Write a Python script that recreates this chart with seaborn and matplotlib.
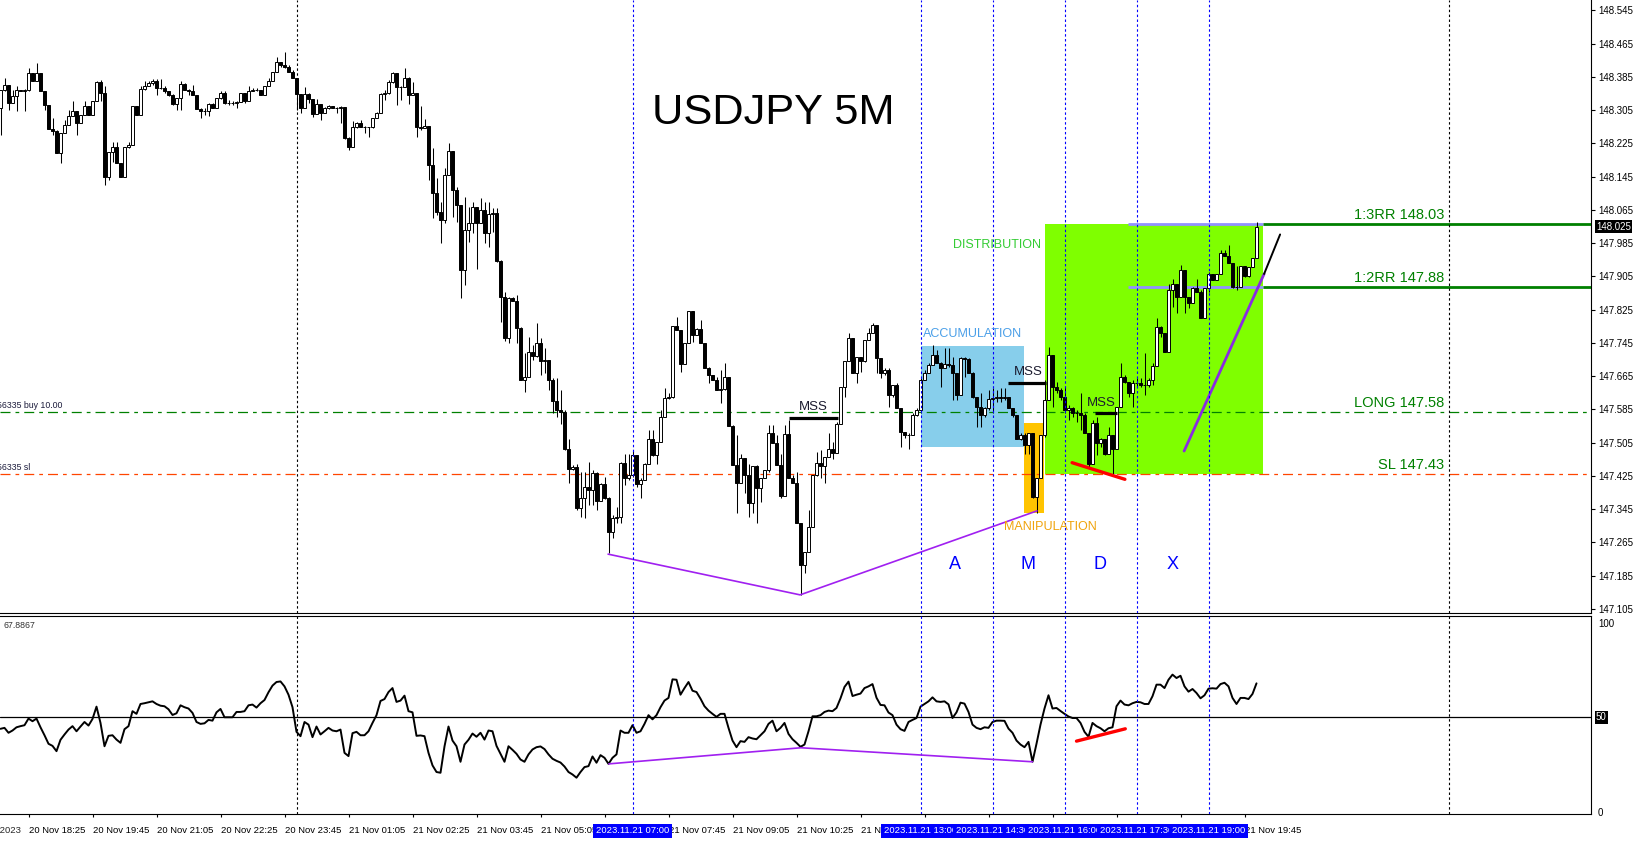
import numpy as np
import matplotlib
matplotlib.use("Agg")
import matplotlib.pyplot as plt
import seaborn as sns
from matplotlib.patches import Rectangle
from matplotlib.transforms import blended_transform_factory

#%%
# USDJPY 5 minute candles, 20 Nov 17:50 -> 21 Nov 20:00 (bar index 0..314)
first_open = 148.310

closes = [
    # 20 Nov 17:50 - 23:55
    148.354, 148.366, 148.322, 148.338, 148.354, 148.352, 148.354, 148.394, 148.374, 148.394,
    148.352, 148.318, 148.259, 148.256, 148.203, 148.249, 148.270, 148.291, 148.303, 148.275,
    148.294, 148.314, 148.294, 148.327, 148.372, 148.346, 148.145, 148.205, 148.217, 148.179,
    148.145, 148.216, 148.221, 148.314, 148.294, 148.355, 148.363, 148.371, 148.376, 148.358,
    148.358, 148.350, 148.342, 148.320, 148.334, 148.367, 148.354, 148.350, 148.342, 148.307,
    148.304, 148.302, 148.319, 148.310, 148.334, 148.347, 148.322, 148.322, 148.322, 148.324,
    148.346, 148.326, 148.351, 148.354, 148.354, 148.342, 148.362, 148.376, 148.398, 148.420,
    148.414, 148.410, 148.398, 148.382,
    # 21 Nov 00:00 - 05:40
    148.345, 148.309, 148.345, 148.333, 148.295, 148.321, 148.299, 148.309, 148.315, 148.309,
    148.309, 148.313, 148.237, 148.216, 148.264, 148.273, 148.264, 148.264, 148.264, 148.285,
    148.299, 148.345, 148.347, 148.373, 148.394, 148.360, 148.360, 148.382, 148.341, 148.347,
    148.264, 148.262, 148.268, 148.173, 148.106, 148.061, 148.041, 148.149, 148.207, 148.114,
    148.078, 147.920, 148.017, 148.033, 148.073, 148.033, 148.066, 148.010, 148.055, 148.057,
    147.943, 147.856, 147.758, 147.852, 147.847, 147.782, 147.656, 147.662, 147.724, 147.714,
    147.744, 147.702, 147.704, 147.656, 147.606, 147.584, 147.580, 147.491, 147.443,
    # 05:45 - 11:55
    147.446, 147.347, 147.371, 147.399, 147.391, 147.431, 147.366, 147.405, 147.371, 147.291,
    147.323, 147.327, 147.457, 147.419, 147.427, 147.475, 147.405, 147.415, 147.455, 147.513,
    147.475, 147.507, 147.568, 147.612, 147.616, 147.786, 147.776, 147.694, 147.746, 147.823,
    147.764, 147.778, 147.744, 147.684, 147.668, 147.656, 147.632, 147.634, 147.664, 147.545,
    147.451, 147.409, 147.469, 147.427, 147.361, 147.449, 147.395, 147.419, 147.439, 147.529,
    147.505, 147.451, 147.377, 147.526, 147.419, 147.409, 147.311, 147.211, 147.243, 147.303,
    147.427, 147.457, 147.449, 147.471, 147.489, 147.481, 147.550, 147.640, 147.702, 147.756,
    147.672, 147.712, 147.702, 147.752, 147.768,
    # 12:10 - 18:45
    147.788, 147.708, 147.672, 147.680, 147.620, 147.644, 147.588, 147.532, 147.524, 147.524,
    147.572, 147.584, 147.656, 147.672, 147.692, 147.716, 147.696, 147.684, 147.694, 147.692,
    147.672, 147.620, 147.708, 147.706, 147.673, 147.616, 147.592, 147.572, 147.588, 147.609,
    147.612, 147.616, 147.612, 147.616, 147.588, 147.572, 147.513, 147.524, 147.499, 147.528,
    147.375, 147.419, 147.524, 147.608, 147.716, 147.640, 147.632, 147.616, 147.584, 147.588,
    147.576, 147.576, 147.572, 147.528, 147.455, 147.552, 147.504, 147.513, 147.479, 147.524,
    147.491, 147.592, 147.664, 147.652, 147.625, 147.649, 147.648, 147.644, 147.644, 147.656,
    147.690, 147.784, 147.768, 147.724, 147.872, 147.888, 147.856, 147.920, 147.856, 147.840,
    # 18:50 - 20:10
    147.876, 147.868, 147.804, 147.876, 147.912, 147.896, 147.912, 147.961, 147.953, 147.937,
    147.880, 147.880, 147.929, 147.906, 147.927, 147.949, 148.025,
]

highs = [
    148.354, 148.382, 148.366, 148.354, 148.362, 148.354, 148.355, 148.406, 148.394, 148.418,
    148.395, 148.352, 148.318, 148.286, 148.257, 148.249, 148.282, 148.306, 148.326, 148.303,
    148.294, 148.326, 148.314, 148.327, 148.374, 148.378, 148.362, 148.205, 148.229, 148.229,
    148.179, 148.216, 148.229, 148.314, 148.314, 148.363, 148.374, 148.376, 148.379, 148.379,
    148.379, 148.362, 148.352, 148.344, 148.334, 148.374, 148.371, 148.355, 148.366, 148.342,
    148.310, 148.310, 148.322, 148.322, 148.334, 148.350, 148.350, 148.330, 148.326, 148.327,
    148.347, 148.347, 148.362, 148.358, 148.358, 148.354, 148.362, 148.382, 148.398, 148.434,
    148.420, 148.446, 148.414, 148.402,
    148.347, 148.345, 148.360, 148.347, 148.303, 148.333, 148.321, 148.313, 148.317, 148.315,
    148.313, 148.315, 148.307, 148.240, 148.279, 148.277, 148.281, 148.267, 148.265, 148.285,
    148.301, 148.347, 148.353, 148.378, 148.398, 148.395, 148.363, 148.406, 148.384, 148.373,
    148.345, 148.315, 148.283, 148.268, 148.213, 148.141, 148.085, 148.165, 148.225, 148.204,
    148.121, 148.077, 148.097, 148.073, 148.085, 148.073, 148.093, 148.085, 148.085, 148.069,
    148.069, 147.944, 147.868, 147.856, 147.856, 147.860, 147.784, 147.720, 147.760, 147.740,
    147.792, 147.756, 147.732, 147.705, 147.660, 147.660, 147.632, 147.584, 147.515,
    147.451, 147.455, 147.435, 147.435, 147.459, 147.439, 147.435, 147.407, 147.423, 147.375,
    147.331, 147.351, 147.459, 147.479, 147.479, 147.487, 147.475, 147.419, 147.457, 147.536,
    147.536, 147.507, 147.584, 147.636, 147.624, 147.786, 147.808, 147.775, 147.746, 147.823,
    147.823, 147.780, 147.800, 147.744, 147.686, 147.668, 147.662, 147.680, 147.696, 147.664,
    147.548, 147.523, 147.479, 147.469, 147.454, 147.449, 147.451, 147.419, 147.439, 147.548,
    147.548, 147.523, 147.479, 147.548, 147.560, 147.427, 147.435, 147.311, 147.243, 147.343,
    147.427, 147.483, 147.487, 147.471, 147.529, 147.507, 147.556, 147.640, 147.702, 147.768,
    147.756, 147.712, 147.702, 147.752, 147.780,
    147.792, 147.788, 147.708, 147.684, 147.684, 147.644, 147.648, 147.588, 147.532, 147.528,
    147.576, 147.588, 147.660, 147.680, 147.696, 147.740, 147.728, 147.698, 147.732, 147.732,
    147.712, 147.672, 147.712, 147.712, 147.708, 147.676, 147.616, 147.624, 147.592, 147.632,
    147.636, 147.632, 147.636, 147.636, 147.616, 147.588, 147.572, 147.528, 147.528, 147.528,
    147.528, 147.419, 147.524, 147.656, 147.736, 147.712, 147.652, 147.636, 147.640, 147.596,
    147.592, 147.584, 147.624, 147.576, 147.528, 147.560, 147.568, 147.516, 147.512, 147.544,
    147.524, 147.592, 147.696, 147.668, 147.652, 147.656, 147.660, 147.660, 147.720, 147.660,
    147.696, 147.804, 147.786, 147.768, 147.888, 147.900, 147.888, 147.932, 147.920, 147.856,
    147.880, 147.900, 147.872, 147.876, 147.916, 147.912, 147.912, 147.969, 147.969, 147.981,
    147.937, 147.929, 147.929, 147.929, 147.927, 147.949, 148.037,
]

lows = [
    148.245, 148.350, 148.306, 148.322, 148.302, 148.350, 148.302, 148.352, 148.374, 148.374,
    148.352, 148.306, 148.259, 148.245, 148.203, 148.177, 148.249, 148.270, 148.291, 148.245,
    148.278, 148.294, 148.294, 148.296, 148.326, 148.326, 148.125, 148.137, 148.181, 148.179,
    148.145, 148.145, 148.213, 148.221, 148.294, 148.294, 148.354, 148.362, 148.366, 148.342,
    148.355, 148.346, 148.338, 148.318, 148.306, 148.306, 148.354, 148.342, 148.342, 148.307,
    148.286, 148.294, 148.290, 148.310, 148.310, 148.331, 148.320, 148.318, 148.318, 148.310,
    148.326, 148.322, 148.326, 148.350, 148.350, 148.342, 148.342, 148.362, 148.376, 148.398,
    148.410, 148.406, 148.398, 148.382,
    148.305, 148.299, 148.321, 148.323, 148.289, 148.307, 148.281, 148.297, 148.307, 148.309,
    148.297, 148.273, 148.235, 148.209, 148.216, 148.261, 148.264, 148.251, 148.241, 148.261,
    148.288, 148.297, 148.329, 148.345, 148.371, 148.317, 148.329, 148.360, 148.321, 148.341,
    148.241, 148.257, 148.261, 148.137, 148.045, 148.053, 147.985, 148.033, 148.149, 148.049,
    148.037, 147.852, 147.884, 147.989, 148.009, 147.924, 148.033, 147.985, 147.977, 148.013,
    147.940, 147.796, 147.750, 147.746, 147.847, 147.744, 147.656, 147.628, 147.668, 147.704,
    147.712, 147.668, 147.672, 147.632, 147.576, 147.568, 147.551, 147.487, 147.407,
    147.439, 147.343, 147.327, 147.323, 147.355, 147.355, 147.343, 147.375, 147.369, 147.239,
    147.275, 147.311, 147.311, 147.403, 147.415, 147.423, 147.399, 147.371, 147.415, 147.455,
    147.473, 147.454, 147.507, 147.566, 147.609, 147.612, 147.775, 147.676, 147.694, 147.744,
    147.748, 147.764, 147.744, 147.684, 147.648, 147.656, 147.632, 147.600, 147.633, 147.545,
    147.451, 147.335, 147.409, 147.383, 147.327, 147.335, 147.311, 147.363, 147.419, 147.435,
    147.505, 147.451, 147.371, 147.379, 147.419, 147.409, 147.311, 147.139, 147.191, 147.251,
    147.313, 147.425, 147.419, 147.407, 147.471, 147.467, 147.487, 147.550, 147.616, 147.702,
    147.672, 147.649, 147.676, 147.698, 147.752,
    147.772, 147.672, 147.660, 147.668, 147.592, 147.616, 147.588, 147.495, 147.516, 147.491,
    147.524, 147.569, 147.576, 147.656, 147.672, 147.692, 147.696, 147.640, 147.684, 147.688,
    147.608, 147.608, 147.620, 147.664, 147.672, 147.612, 147.544, 147.544, 147.568, 147.584,
    147.576, 147.604, 147.604, 147.608, 147.588, 147.568, 147.513, 147.512, 147.479, 147.479,
    147.371, 147.335, 147.419, 147.518, 147.608, 147.592, 147.624, 147.608, 147.576, 147.560,
    147.568, 147.556, 147.536, 147.528, 147.447, 147.455, 147.476, 147.495, 147.475, 147.479,
    147.427, 147.491, 147.596, 147.648, 147.616, 147.592, 147.640, 147.640, 147.620, 147.640,
    147.644, 147.690, 147.760, 147.724, 147.748, 147.832, 147.816, 147.888, 147.816, 147.828,
    147.848, 147.868, 147.804, 147.804, 147.868, 147.896, 147.896, 147.912, 147.953, 147.937,
    147.876, 147.872, 147.880, 147.904, 147.904, 147.927, 147.949,
]

# RSI(14) of the same bars
rsi_values = [
    43.9, 44.4, 41.8, 43.0, 44.7, 45.3, 45.8, 49.3, 47.9, 49.3,
    44.7, 40.5, 36.0, 34.9, 32.1, 38.1, 40.9, 43.5, 45.3, 42.6,
    45.1, 47.5, 45.6, 49.1, 55.6, 47.0, 34.7, 40.2, 40.5, 38.2,
    36.5, 43.7, 45.3, 53.2, 51.8, 57.0, 57.4, 57.9, 58.4, 57.0,
    56.1, 55.8, 54.2, 51.2, 52.1, 56.3, 55.3, 54.6, 52.3, 47.5,
    46.5, 46.8, 48.6, 48.2, 52.6, 54.4, 50.0, 50.0, 50.0, 52.8,
    52.8, 53.2, 56.3, 56.7, 55.1, 57.4, 59.1, 63.2, 66.7, 68.6,
    68.9, 66.3, 61.9, 55.3, 42.3, 40.0, 47.5, 46.1, 39.5, 45.1,
    40.9, 42.6, 44.4, 43.0, 42.6, 43.5, 31.2, 29.5, 41.6, 42.3,
    40.5, 40.5, 42.6, 47.0, 51.1, 58.6, 59.6, 63.3, 65.4, 58.1,
    58.8, 61.4, 53.2, 52.6, 40.2, 40.4, 40.0, 31.2, 24.6, 21.1,
    20.7, 34.6, 45.1, 37.7, 34.7, 26.5, 35.6, 38.1, 41.4, 39.7,
    41.8, 38.2, 43.0, 42.6, 34.9, 30.7, 26.5, 34.7, 32.8, 30.7,
    27.7, 26.5, 30.4, 33.0, 34.2, 34.6, 33.2, 30.4, 28.1, 27.0,
    26.1, 24.0, 21.1, 19.8, 18.1, 21.1, 23.7, 24.2, 29.3, 26.0,
    30.0, 28.6, 25.4, 28.6, 30.4, 43.0, 41.8, 41.8, 45.8, 41.8,
    42.6, 46.5, 51.1, 48.9, 51.1, 55.3, 58.8, 60.2, 70.0, 69.8,
    61.9, 65.4, 68.6, 64.0, 63.3, 59.8, 55.8, 53.5, 51.8, 50.2,
    51.8, 51.8, 44.4, 37.7, 34.2, 37.4, 37.0, 39.5, 38.8, 38.4,
    40.5, 42.6, 46.5, 48.2, 42.6, 44.4, 47.0, 41.2, 38.4, 36.5,
    34.4, 35.6, 42.6, 50.5, 50.5, 51.1, 52.8, 53.5, 53.2, 54.9,
    60.0, 66.0, 68.8, 61.2, 61.9, 62.5, 65.4, 66.3, 67.5, 60.3,
    56.5, 56.3, 52.5, 51.1, 46.1, 43.7, 42.8, 47.5, 48.6, 49.6,
    55.6, 57.0, 58.4, 60.5, 58.4, 58.1, 58.4, 56.8, 49.6, 52.6,
    57.7, 57.2, 52.8, 46.1, 44.4, 43.7, 44.7, 44.4, 47.5, 48.2,
    48.2, 48.1, 44.0, 41.8, 37.7, 35.6, 34.2, 37.0, 26.5, 36.0,
    46.1, 54.6, 61.6, 54.6, 54.9, 53.3, 51.8, 50.4, 49.6, 49.6,
    47.0, 42.3, 39.7, 47.0, 45.3, 44.2, 42.6, 44.2, 44.7, 55.8,
    58.8, 56.7, 56.3, 57.4, 58.1, 57.9, 57.0, 57.0, 61.1, 67.2,
    67.2, 65.4, 69.8, 72.5, 70.7, 71.9, 66.3, 63.5, 64.9, 62.8,
    60.0, 61.6, 65.1, 65.3, 65.1, 67.5, 68.2, 66.3, 60.2, 57.0,
    60.2, 60.2, 59.6, 62.3, 67.89,
]

# time axis
tick_idx = [7, 23, 39, 55, 71, 87, 103, 119, 135, 151, 167, 183, 199, 215, 231, 247, 263, 279, 295, 311]
tick_labels = ["20 Nov 18:25", "20 Nov 19:45", "20 Nov 21:05", "20 Nov 22:25", "20 Nov 23:45",
               "21 Nov 01:05", "21 Nov 02:25", "21 Nov 03:45", "21 Nov 05:05", "21 Nov 06:25",
               "21 Nov 07:45", "21 Nov 09:05", "21 Nov 10:25", "21 Nov 11:45", "21 Nov 13:05",
               "21 Nov 14:25", "21 Nov 15:45", "21 Nov 17:05", "21 Nov 18:25", "21 Nov 19:45"]
session_idx = [158, 230, 248, 266, 284, 302]
session_labels = ["2023.11.21 07:00", "2023.11.21 13:00", "2023.11.21 14:30",
                  "2023.11.21 16:00", "2023.11.21 17:30", "2023.11.21 19:00"]
day_idx = [74, 362]

# trade levels
entry_price = 147.58
stop_price = 147.43
tp2_price = 147.88
tp3_price = 148.03
last_price = 148.025
last_rsi = "67.8867"

#%%
sns.set_theme(style="white")
plt.rcParams['font.family'] = ['Liberation Sans', 'DejaVu Sans']

W, H = 1635, 842
fig = plt.figure(figsize=(W / 100, H / 100), dpi=100)
ax = fig.add_axes([0, 1 - 613 / H, 1591 / W, 613 / H])
ax2 = fig.add_axes([0, 1 - 814 / H, 1591 / W, (814 - 615.5) / H], sharex=ax)

n = np.arange(len(closes))
c = np.array(closes)
o = np.array([first_open] + closes[:-1])
hi = np.maximum(np.array(highs), np.maximum(o, c))
lo = np.minimum(np.array(lows), np.minimum(o, c))
up = c >= o

# candles
ax.vlines(n, lo, hi, color='black', lw=0.75, zorder=4)
ax.bar(n[up], (c - o)[up], bottom=o[up], width=0.55, color='white', edgecolor='black', lw=0.7, zorder=5)
ax.bar(n[~up], (o - c)[~up], bottom=c[~up], width=0.55, color='black', edgecolor='black', lw=0.7, zorder=5)

# AMD boxes
ax.add_patch(Rectangle((230, 147.494), 25.9, 0.244, fc='#87CEEB', ec='none', zorder=1))
ax.add_patch(Rectangle((255.9, 147.337), 4.9, 0.216, fc='#FFC400', ec='none', zorder=1))
ax.add_patch(Rectangle((261, stop_price), 54.7, tp3_price - stop_price, fc='#7FFF00', ec='none', zorder=1))

ax.text(230.6, 147.767, 'ACCUMULATION', color='#4A9FE8', fontsize=9, va='center', zorder=7)
ax.text(238.2, 147.981, 'DISTRIBUTION', color='#33CC33', fontsize=9, va='center', zorder=7)
ax.text(250.9, 147.303, 'MANIPULATION', color='#F0A30A', fontsize=9, va='center', zorder=7)
for xi, letter in zip([238.6, 256.9, 274.9, 292.9], ['A', 'M', 'D', 'X']):
    ax.text(xi, 147.211, letter, color='blue', fontsize=13, ha='center', va='center', zorder=7)

# market structure shifts
ax.hlines([147.564, 147.649, 147.576], [197, 251.8, 273.6], [209.4, 261.4, 279.1],
          color='black', lw=2.3, zorder=6)
for xi, yi in [(199.5, 147.590), (253.4, 147.675), (271.5, 147.600)]:
    ax.text(xi, yi, 'MSS', color='#1a1a2e', fontsize=9.5, va='center', zorder=7)

ax.plot([267.9, 281.1], [147.457, 147.417], color='red', lw=2.4, zorder=6)
ax.plot([151.9, 199.9, 259.1], [147.237, 147.139, 147.341], color='#A020F0', lw=1.2, zorder=6)
ax.plot([295.9, 315.9], [147.485, 147.911], color='#8A2BE2', lw=2, zorder=6)
ax.plot([315.9, 319.9], [147.911, 148.006], color='black', lw=1.4, zorder=6)

# trade levels
ax.hlines([tp3_price, tp2_price], 281.9, 315.7, color='#9191FF', lw=2, zorder=3)
ax.hlines([tp3_price, tp2_price], 315.7, 400, color='#008000', lw=2, zorder=3)
ax.axhline(entry_price, color='#008000', lw=0.9, ls=(0, (8, 4, 3, 4)), zorder=3)
ax.axhline(stop_price, color='#FF4500', lw=0.9, ls=(0, (8, 4, 3, 4)), zorder=3)
for lvl, txt in [(tp3_price, '1:3RR 148.03'), (tp2_price, '1:2RR 147.88'),
                 (entry_price, 'LONG 147.58'), (stop_price, 'SL 147.43')]:
    ax.annotate(txt, xy=(360.9, lvl), xytext=(0, 3.6), textcoords='offset points',
                ha='right', va='baseline', fontsize=10.5, color='#008000', zorder=7)
ax.annotate('56335 buy 10.00', xy=(-0.8, entry_price), xytext=(0, 2.5), textcoords='offset points',
            fontsize=6.3, va='baseline', color='#1c1c3c', annotation_clip=False)
ax.annotate('56335 sl', xy=(-0.8, stop_price), xytext=(0, 2.5), textcoords='offset points',
            fontsize=6.3, va='baseline', color='#1c1c3c', annotation_clip=False)

ax.text(193.1, 148.297, 'USDJPY 5M', fontsize=31.2, ha='center', va='center', color='black', zorder=7)

# session / day separators
for a in (ax, ax2):
    for xi in session_idx:
        a.axvline(xi, color='blue', lw=0.8, ls=(0, (2.2, 2.2)), zorder=6)
    for xi in day_idx:
        a.axvline(xi, color='black', lw=0.8, ls=(0, (2.2, 2.2)), zorder=6)

# price axis
ax.set_xlim(-0.125, 397.625)
ax.set_ylim(147.0954, 148.570)
ax.yaxis.tick_right()
ax.set_yticks(np.round(147.105 + 0.08 * np.arange(19), 3))
ax.yaxis.set_major_formatter(matplotlib.ticker.FormatStrFormatter('%.3f'))
ax.tick_params(axis='y', direction='out', length=3, width=0.8, labelsize=7, pad=2, colors='black')
ax.tick_params(axis='x', bottom=False, labelbottom=False)
for s in ['top', 'left']:
    ax.spines[s].set_visible(False)
for s in ['right', 'bottom']:
    ax.spines[s].set_color('black')
    ax.spines[s].set_linewidth(0.8)
ax.text(1 + 5 / 1591, last_price, f'{last_price:.3f}', transform=blended_transform_factory(ax.transAxes, ax.transData),
        color='white', fontsize=7, va='center', ha='left',
        bbox=dict(boxstyle='square,pad=0.15', fc='black', ec='none'), clip_on=False, zorder=8)

# RSI panel
sns.lineplot(x=n, y=rsi_values, ax=ax2, color='black', lw=1.4, zorder=5)
ax2.axhline(50, color='black', lw=0.9, zorder=4)
ax2.plot([269.0, 281.2], [37.4, 43.9], color='red', lw=2.4, zorder=6)
ax2.plot([152.1, 200.1, 258.0], [25.4, 33.9, 26.5], color='#A020F0', lw=1.2, zorder=6)
ax2.set_ylim(-1.06, 103.7)
ax2.yaxis.tick_right()
ax2.set_yticks([0, 100])
ax2.set_yticklabels(['0', '100'])
ax2.tick_params(axis='y', length=0, labelsize=7, pad=5, colors='black')
ax2.spines['left'].set_visible(False)
for s in ['top', 'right', 'bottom']:
    ax2.spines[s].set_color('black')
    ax2.spines[s].set_linewidth(0.8)
ax2.text(1 + 5 / 1591, 50, '50', transform=blended_transform_factory(ax2.transAxes, ax2.transData),
         color='white', fontsize=7, va='center', ha='left',
         bbox=dict(boxstyle='square,pad=0.15', fc='black', ec='none'), clip_on=False)
ax2.text(0.002, 0.952, last_rsi, transform=ax2.transAxes, fontsize=6.3, color='#333333', va='center')

ax2.set_xticks(tick_idx)
ax2.set_xticklabels(tick_labels, ha='left', fontsize=6.8)
ax2.tick_params(axis='x', direction='out', length=2.5, width=0.8, pad=6, colors='black', bottom=True)
ax2.set_xlabel('')
ax2.set_ylabel('')

bx = blended_transform_factory(ax2.transData, ax2.transAxes)
ax2.text(5.0, -0.0856, '20 Nov 2023', transform=bx, ha='right', va='center', fontsize=6.8, clip_on=False)
for xi, lbl in zip(session_idx, session_labels):
    ax2.text(xi, -0.0856, lbl, transform=bx, ha='center', va='center', color='white', fontsize=6.8,
             bbox=dict(boxstyle='square,pad=0.3', fc='#0000FF', ec='none'), clip_on=False, zorder=10)

plt.savefig('out.png', dpi=100)
